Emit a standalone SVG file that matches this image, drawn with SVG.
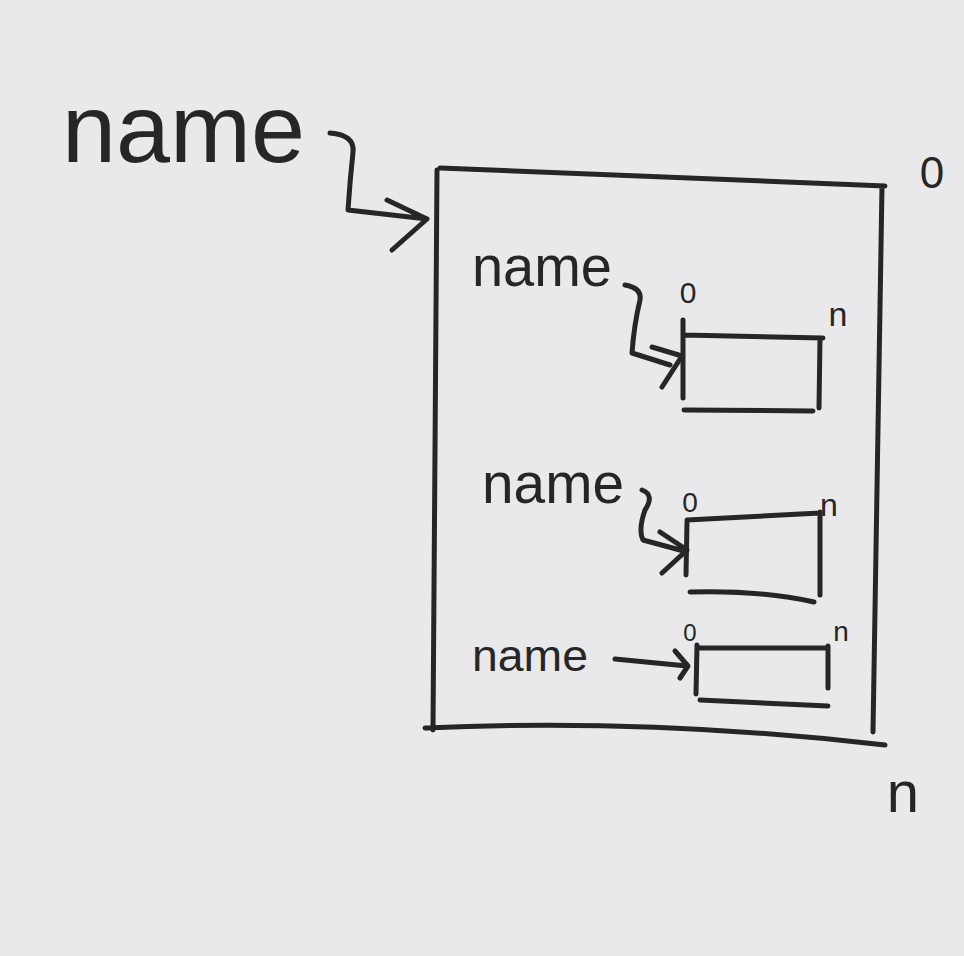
<svg xmlns="http://www.w3.org/2000/svg" width="964" height="956" viewBox="0 0 964 956">
<style>
.ln{fill:none;stroke:#262626;stroke-width:5;stroke-linecap:round;stroke-linejoin:round}
.tx{font-family:"Liberation Sans","DejaVu Sans",sans-serif;fill:#262626}
</style>
<rect width="964" height="956" fill="#e9e9eb"/>
<g id="outer-label">
<text class="tx" x="62" y="162" font-size="96" textLength="243" lengthAdjust="spacingAndGlyphs">name</text>
</g>
<g id="outer-array">
<path class="ln" d="M437 170 L433 730 M440 168 L885 186 M882 186 L873 732 M425 728 Q650 718 885 745"/>
<text class="tx" x="932" y="188" font-size="44" text-anchor="middle">0</text>
<text class="tx" x="903" y="812" font-size="58" text-anchor="middle">n</text>
</g>
<g id="array-1">
<path class="ln" d="M683 320 L683 398 M683 335 L823 338 M820 338 L819 408 M684 410 L813 411"/>
<text class="tx" x="472" y="286" font-size="58" textLength="140" lengthAdjust="spacingAndGlyphs">name</text>
<text class="tx" x="688" y="303" font-size="30" text-anchor="middle">0</text>
<text class="tx" x="838" y="326" font-size="34" text-anchor="middle">n</text>
</g>
<g id="array-2">
<path class="ln" d="M687 522 L686 575 M687 520 L820 513 M820 512 L820 595 M690 592 Q760 590 814 602"/>
<text class="tx" x="482" y="503" font-size="58" textLength="142" lengthAdjust="spacingAndGlyphs">name</text>
<text class="tx" x="690" y="512" font-size="28" text-anchor="middle">0</text>
<text class="tx" x="829" y="516" font-size="32" text-anchor="middle">n</text>
</g>
<g id="array-3">
<path class="ln" d="M697 645 L696 694 M697 648 L828 648 M828 646 L828 688 M700 700 L828 706"/>
<text class="tx" x="472" y="671" font-size="44" textLength="116" lengthAdjust="spacingAndGlyphs">name</text>
<text class="tx" x="690" y="641" font-size="24" text-anchor="middle">0</text>
<text class="tx" x="841" y="641" font-size="28" text-anchor="middle">n</text>
</g>
<g id="connectors">
<path class="ln" d="M330 133 Q355 135 353 152 Q350 180 348 210 L427 219 M387 200 L427 219 L392 250"/>
<path class="ln" d="M625 285 Q642 288 640 300 Q634 325 632 353 L670 365 M652 347 L682 356 L662 387"/>
<path class="ln" d="M642 490 Q655 495 645 510 Q638 530 643 540 L680 550 M660 532 L687 550 L662 573"/>
<path class="ln" d="M615 659 L687 666 M675 651 L688 666 L680 678"/>
</g>
</svg>
